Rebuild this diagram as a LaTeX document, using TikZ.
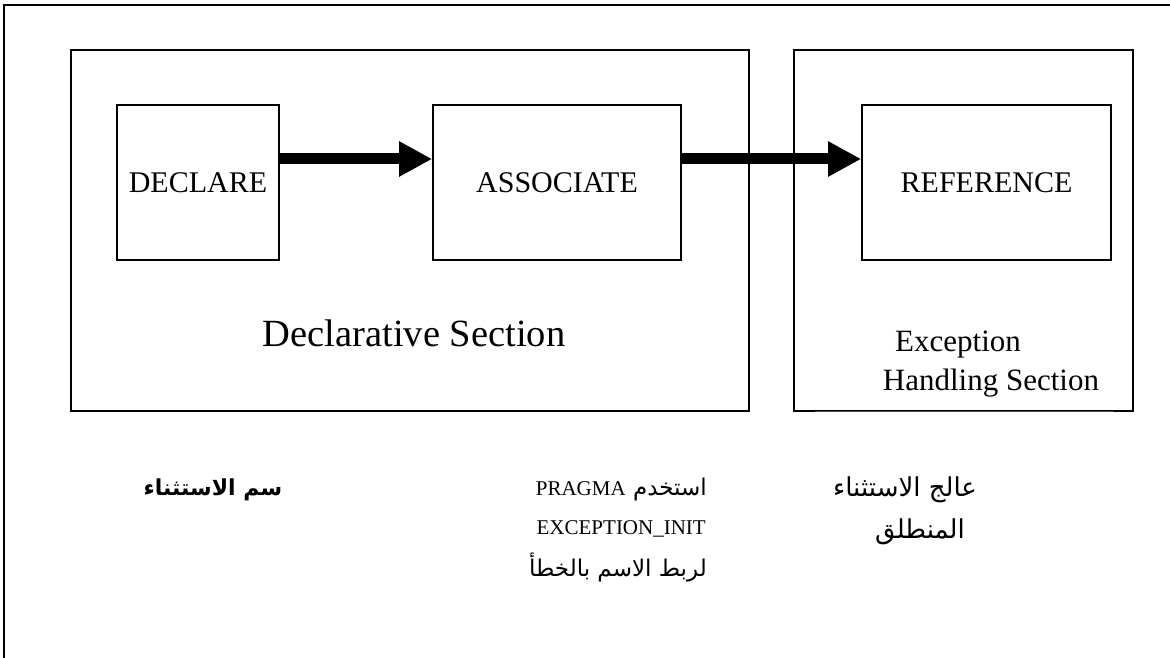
\documentclass[tikz,border=0pt]{standalone}
\usepackage{fontspec}
\setmainfont{Liberation Serif}
\newfontfamily\arabicfont[Script=Arabic]{DejaVu Sans}
\TeXXeTstate=1
\usetikzlibrary{arrows.meta}

\tikzset{
  frame/.style={draw, line width=1.6pt, inner sep=0pt},
  stepbox/.style={draw, line width=1.6pt, inner sep=0pt, minimum height=155pt,
    font=\fontsize{30}{36}\selectfont},
  bigarrow/.style={line width=11pt, -{Triangle[length=33pt,width=33pt]}},
  seclabel/.style={inner sep=0pt},
  artext/.style={inner sep=0pt, font=\arabicfont\fontsize{23}{28}\selectfont},
  lattext/.style={inner sep=0pt, font=\fontsize{21}{26}\selectfont},
}

\begin{document}
\begin{tikzpicture}[x=1pt, y=-1pt]
  \useasboundingbox (0,0) rectangle (1170,658);

  % page frame (only top and left edges are visible)
  \draw[line width=2pt] (1170,5) -- (4,5) -- (4,658);

  % the two sections of the block
  \node[frame, minimum width=678pt, minimum height=361pt] (decl) at (410,230.5) {};
  \node[frame, minimum width=339pt, minimum height=361pt] (exc) at (963.5,230.5) {};
  \draw[white, line width=1.8pt] ([xshift=23pt]exc.south west) -- ([xshift=-21pt]exc.south east);
  \draw[black!70, line width=0.8pt] ([xshift=22pt]exc.south west) -- ([xshift=-20pt]exc.south east);

  % the three steps
  \node[stepbox, minimum width=162pt] (declare) at (198,182.5) {DECLARE};
  \node[stepbox, minimum width=248pt] (assoc) at (557,182.5) {ASSOCIATE};
  \node[stepbox, minimum width=249pt] (ref) at (986.5,182.5) {REFERENCE};

  \draw[bigarrow] ([yshift=23.5pt]declare.east) -- ([yshift=23.5pt]assoc.west);
  \draw[bigarrow] ([yshift=23.5pt]assoc.east) -- ([yshift=23.5pt]ref.west);

  % section captions
  \node[seclabel, font=\fontsize{38.5}{44}\selectfont] (decllbl) at (414,333) {Declarative Section};
  \node[seclabel, font=\fontsize{31}{36}\selectfont] (exclbl1) at (958,345) {Exception};
  \node[seclabel, font=\fontsize{31}{36}\selectfont] (exclbl2) at (991,383) {Handling Section};

  % notes under the block
  \node[artext, font=\arabicfont\bfseries\fontsize{22}{28}\selectfont] (n1) at (213,490) {\beginR سم الاستثناء\endR};

  \node[artext, anchor=east] (n2a) at (707,490) {\beginR استخدم\ \beginL{\rmfamily\fontsize{21}{26}\selectfont PRAGMA}\endL\endR};
  \node[lattext, anchor=east] (n2b) at (706,529) {EXCEPTION\_INIT};
  \node[artext, anchor=east] (n2c) at (707,567) {\beginR لربط الاسم بالخطأ\endR};

  \node[artext, font=\arabicfont\fontsize{26}{30}\selectfont] (n3a) at (905,490) {\beginR عالج الاستثناء\endR};
  \node[artext, font=\arabicfont\fontsize{26}{30}\selectfont] (n3b) at (920,532) {\beginR المنطلق\endR};
\end{tikzpicture}
\end{document}
